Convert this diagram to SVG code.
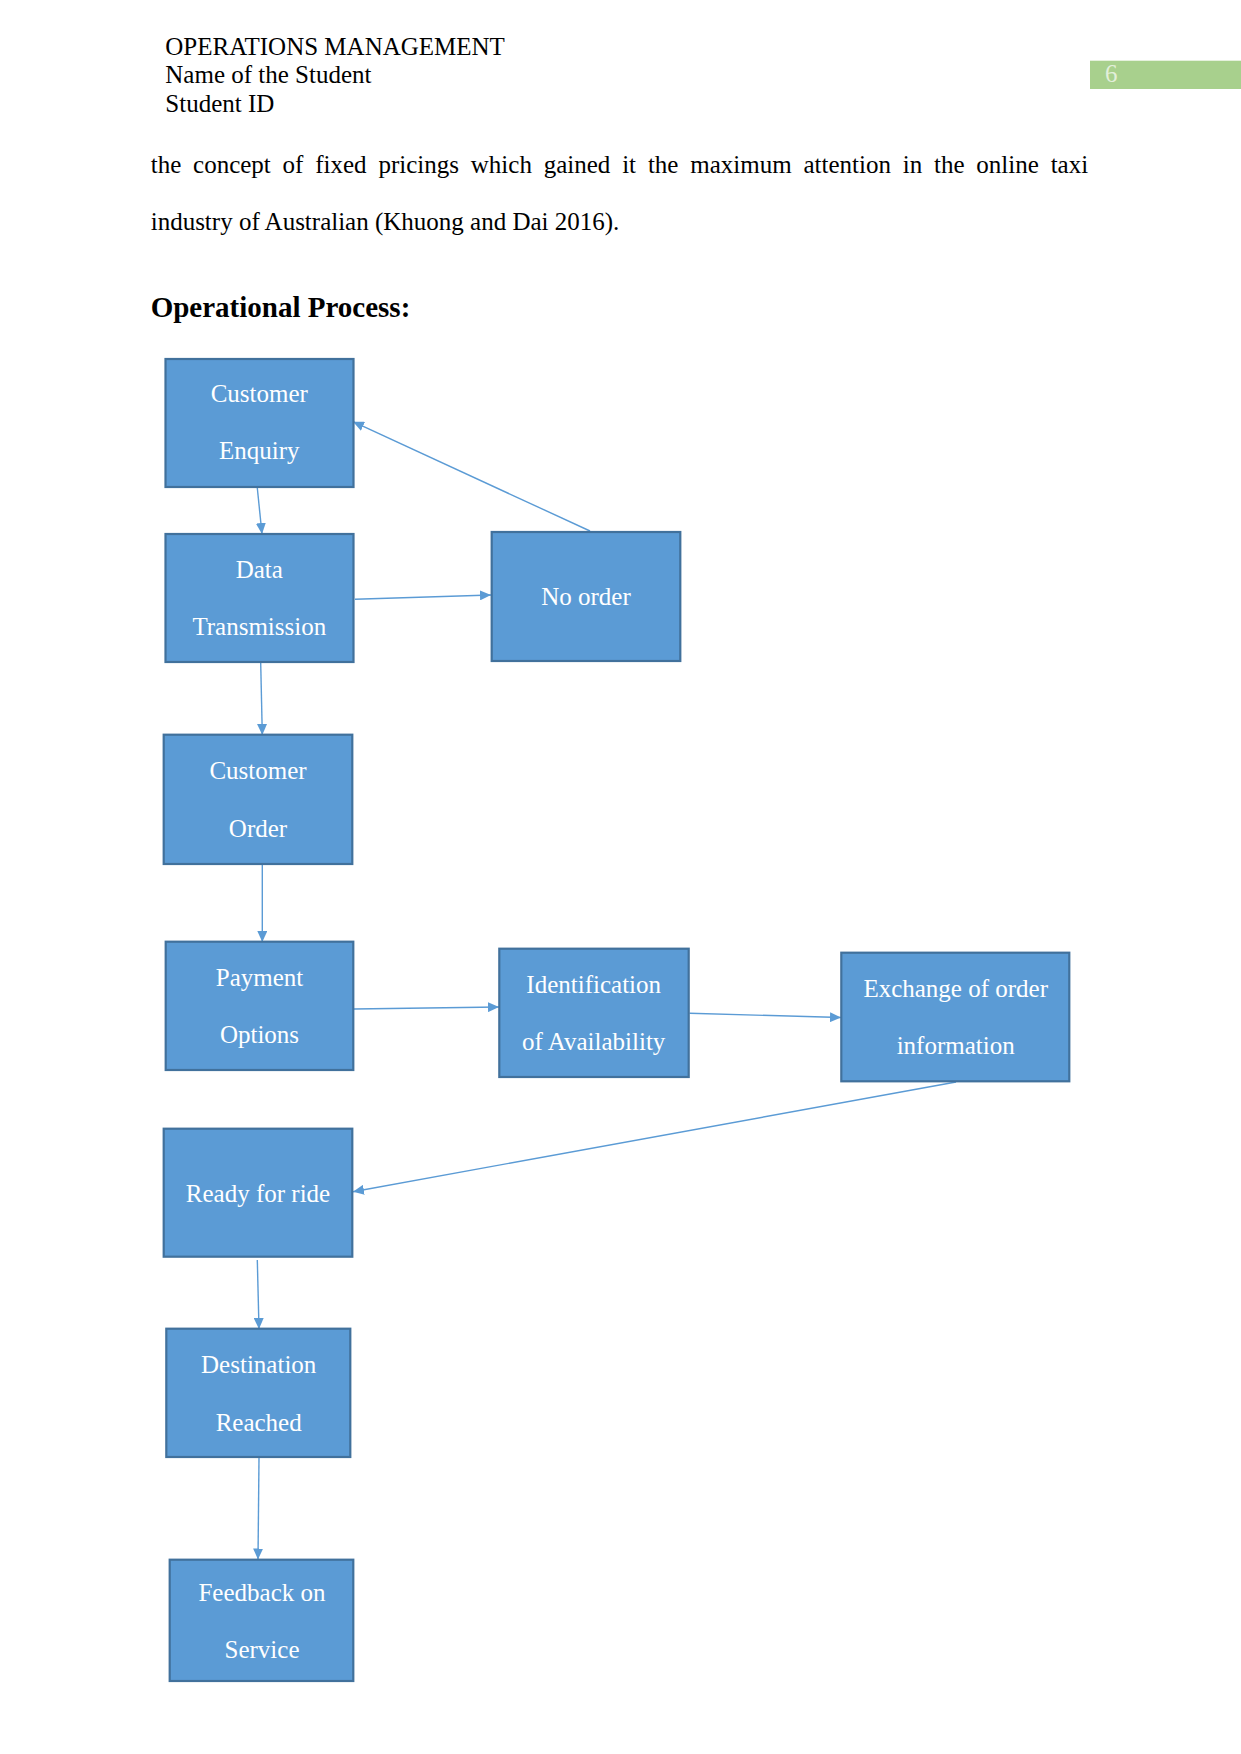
<svg xmlns="http://www.w3.org/2000/svg" width="1241" height="1754" viewBox="0 0 1241 1754">
<style>
.t{font-family:"Liberation Serif","Times New Roman",serif;font-size:25px;fill:#000}
.h{font-family:"Liberation Serif","Times New Roman",serif;font-size:29px;font-weight:bold;fill:#000}
.box{fill:#5b9bd5;stroke:#41719c;stroke-width:2.2}
.lbl{font-family:"Liberation Serif","Times New Roman",serif;font-size:25px;fill:#ffffff;text-anchor:middle}
.c{stroke:#5b9bd5;stroke-width:1.4;fill:none;marker-end:url(#ah)}
</style>
<defs>
<marker id="ah" markerUnits="userSpaceOnUse" markerWidth="11" markerHeight="10" refX="11" refY="5" orient="auto">
<path d="M0,0 L11,5 L0,10 z" fill="#5b9bd5"/>
</marker>
</defs>
<rect width="1241" height="1754" fill="#ffffff"/>
<g id="header">
<text class="t" x="165.3" y="55">OPERATIONS MANAGEMENT</text>
<text class="t" x="165.3" y="83">Name of the Student</text>
<text class="t" x="165.3" y="111.5">Student ID</text>
<rect x="1090" y="60.7" width="151" height="28.3" fill="#a8d08d"/>
<text class="t" x="1105" y="82.3" style="fill:#e2efda">6</text>
</g>
<g id="body">
<text class="t" x="150.7" y="173.3" word-spacing="5.57">the concept of fixed pricings which gained it the maximum attention in the online taxi</text>
<text class="t" x="150.7" y="230">industry of Australian (Khuong and Dai 2016).</text>
<text class="h" x="150.7" y="316.7">Operational Process:</text>
</g>
<g id="connectors">
<line class="c" x1="257.3" y1="488" x2="262" y2="534"/>
<line class="c" x1="590" y1="531" x2="353" y2="421.7"/>
<line class="c" x1="355" y1="599.3" x2="491" y2="595"/>
<line class="c" x1="260.7" y1="663" x2="262.3" y2="735"/>
<line class="c" x1="262.3" y1="865" x2="262.3" y2="942"/>
<line class="c" x1="354" y1="1009" x2="499" y2="1007"/>
<line class="c" x1="689.5" y1="1013.3" x2="841" y2="1017.5"/>
<line class="c" x1="956" y1="1082" x2="353" y2="1191.7"/>
<line class="c" x1="257.3" y1="1260" x2="259" y2="1329"/>
<line class="c" x1="259" y1="1458" x2="258" y2="1559.5"/>
</g>
<g id="customer-enquiry">
<rect class="box" x="165.5" y="359" width="188" height="128"/>
<text class="lbl" x="259.3" y="402.3">Customer</text>
<text class="lbl" x="259.3" y="459.3">Enquiry</text>
</g>
<g id="data-transmission">
<rect class="box" x="165.5" y="534" width="188" height="128"/>
<text class="lbl" x="259.3" y="577.7">Data</text>
<text class="lbl" x="259.3" y="634.7">Transmission</text>
</g>
<g id="no-order">
<rect class="box" x="491.7" y="532" width="188.6" height="129"/>
<text class="lbl" x="586" y="605">No order</text>
</g>
<g id="customer-order">
<rect class="box" x="163.7" y="734.7" width="188.6" height="129.3"/>
<text class="lbl" x="258" y="779.3">Customer</text>
<text class="lbl" x="258" y="836.7">Order</text>
</g>
<g id="payment-options">
<rect class="box" x="165.7" y="941.7" width="187.6" height="128.3"/>
<text class="lbl" x="259.5" y="986">Payment</text>
<text class="lbl" x="259.5" y="1042.7">Options</text>
</g>
<g id="identification">
<rect class="box" x="499.3" y="948.7" width="189.4" height="128.3"/>
<text class="lbl" x="593.7" y="992.7">Identification</text>
<text class="lbl" x="593.7" y="1050">of Availability</text>
</g>
<g id="exchange">
<rect class="box" x="841.3" y="952.7" width="228" height="128.6"/>
<text class="lbl" x="955.7" y="996.7">Exchange of order</text>
<text class="lbl" x="955.7" y="1054">information</text>
</g>
<g id="ready-for-ride">
<rect class="box" x="163.7" y="1128.7" width="188.6" height="128"/>
<text class="lbl" x="258" y="1201.7">Ready for ride</text>
</g>
<g id="destination-reached">
<rect class="box" x="166.3" y="1328.7" width="184" height="128.3"/>
<text class="lbl" x="258.7" y="1372.7">Destination</text>
<text class="lbl" x="258.7" y="1430.7">Reached</text>
</g>
<g id="feedback">
<rect class="box" x="169.7" y="1559.7" width="183.6" height="121.3"/>
<text class="lbl" x="262" y="1601">Feedback on</text>
<text class="lbl" x="262" y="1657.7">Service</text>
</g>
</svg>
